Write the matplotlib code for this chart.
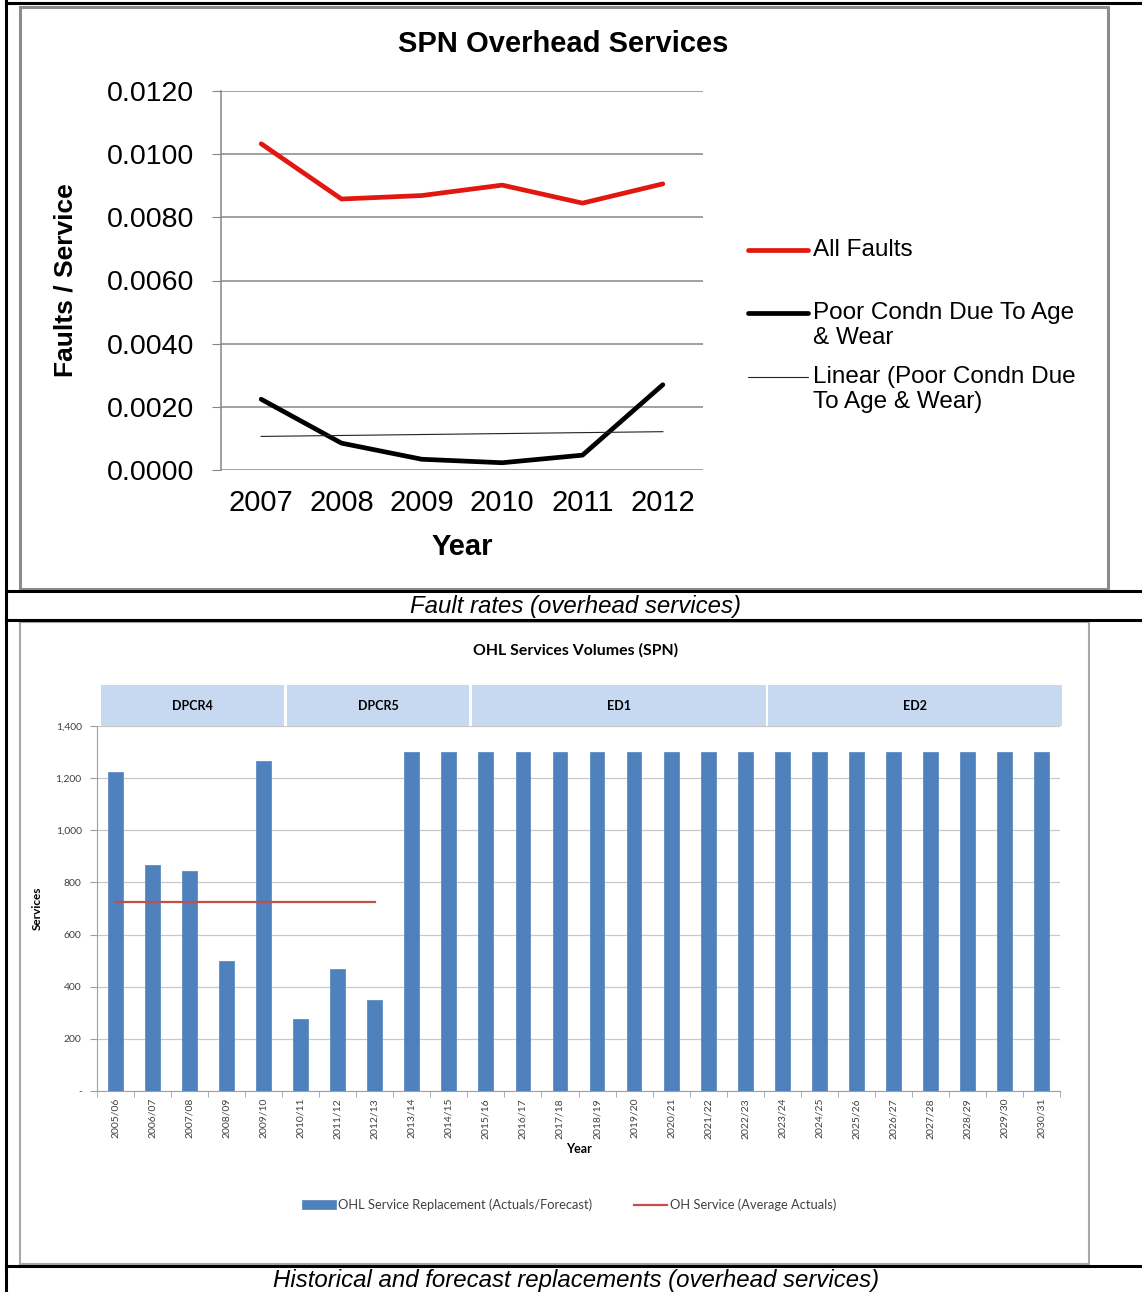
import numpy as np
import matplotlib
matplotlib.use("Agg")
from matplotlib import pyplot as plt
from matplotlib.lines import Line2D
from matplotlib.patches import Rectangle
import matplotlib.transforms as mtransforms

# Fault rates per service (top chart)
years = ["2007", "2008", "2009", "2010", "2011", "2012"]
all_faults = [0.01033, 0.00858, 0.00869, 0.00902, 0.00845, 0.00906]
poor_condn = [0.00224, 0.00085, 0.00034, 0.00023, 0.00047, 0.00270]
fault_yticks = [0.0, 0.002, 0.004, 0.006, 0.008, 0.010, 0.012]
fault_legend = [
    ["All Faults"],
    ["Poor Condn Due To Age", "& Wear"],
    ["Linear (Poor Condn Due", "To Age & Wear)"],
]

# Service replacement volumes (bottom chart)
periods = ["2005/06", "2006/07", "2007/08", "2008/09", "2009/10", "2010/11",
           "2011/12", "2012/13", "2013/14", "2014/15", "2015/16", "2016/17",
           "2017/18", "2018/19", "2019/20", "2020/21", "2021/22", "2022/23",
           "2023/24", "2024/25", "2025/26", "2026/27", "2027/28", "2028/29",
           "2029/30", "2030/31"]
volumes = [1225, 868, 845, 500, 1266, 275, 467, 349] + [1300] * 18
n_actuals = 8
price_controls = ["DPCR4", "DPCR5", "ED1", "ED2"]
control_years = [5, 5, 8, 8]
volume_yticks = [0, 200, 400, 600, 800, 1000, 1200, 1400]

W, H = 1142, 1292


def fx(px):
    return px / W


def fy(py):
    return 1 - py / H


fig = plt.figure(figsize=(W / 100, H / 100), dpi=100)
fig.patch.set_facecolor("white")

# ---- top chart ----
arial = "Liberation Sans"
ax1 = fig.add_axes([fx(221), fy(470), fx(703 - 221), (470 - 91) / H])
x = np.arange(len(years))
ax1.plot(x, all_faults, color="#e2170f", lw=3.4, solid_capstyle="round",
         solid_joinstyle="round")
ax1.plot(x, poor_condn, color="black", lw=3.4, solid_capstyle="round",
         solid_joinstyle="round")
coef = np.polyfit(x, poor_condn, 1)
ax1.plot(x, np.polyval(coef, x), color="#222222", lw=0.8)

ax1.set_xlim(-0.5, len(years) - 0.5)
ax1.set_ylim(0, 0.012)
ax1.set_yticks(fault_yticks)
ax1.set_yticklabels([f"{v:.4f}" for v in fault_yticks], fontsize=20.5, family=arial)
ax1.set_xticks(x)
ax1.set_xticklabels(years, fontsize=21, family=arial)
ax1.tick_params(axis="y", length=6.5, color="#868686", pad=13)
ax1.tick_params(axis="x", length=0, pad=14)
ax1.grid(axis="y", color="#868686", lw=1.1)
ax1.set_axisbelow(True)
for side in ["top", "right", "bottom"]:
    ax1.spines[side].set_visible(False)
ax1.spines["left"].set_color("#868686")
ax1.spines["left"].set_linewidth(1.1)
ax1.set_xlabel("Year", fontsize=21, fontweight="bold", family=arial, labelpad=11)
ax1.set_ylabel("Faults / Service", fontsize=19, fontweight="bold", family=arial)
ax1.yaxis.set_label_coords(-0.297, 0.5)
fig.text(fx(563), fy(44), "SPN Overhead Services", ha="center", va="center",
         fontsize=21, fontweight="bold", family=arial)

# legend drawn beside the plot area
legend_styles = [("#e2170f", 3.4), ("black", 3.4), ("#222222", 0.8)]
legend_rows = [250, 313, 377]
for (color, lw), row, lines in zip(legend_styles, legend_rows, fault_legend):
    fig.add_artist(Line2D([fx(748), fx(808)], [fy(row), fy(row)], color=color,
                          lw=lw, solid_capstyle="round"))
    for i, line in enumerate(lines):
        fig.text(fx(813), fy(row + 25 * i), line, ha="left", va="center",
                 fontsize=17.5, family=arial)

# ---- bottom chart ----
calib = "Lato"
ax2 = fig.add_axes([fx(97), fy(1091), fx(1060 - 97), (1091 - 726) / H])
xb = np.arange(len(periods))
bars = ax2.bar(xb, volumes, width=0.4, color="#4f81bd", edgecolor="#5f8cc4",
               lw=0.6, label="OHL Service Replacement (Actuals/Forecast)", zorder=3)
avg = np.mean(volumes[:n_actuals])
avg_line, = ax2.plot([0, n_actuals - 1], [avg, avg], color="#c0504d", lw=1.6,
                     label="OH Service (Average Actuals)", zorder=4)

ax2.set_xlim(-0.5, len(periods) - 0.5)
ax2.set_ylim(0, 1400)
ax2.set_yticks(volume_yticks)
ax2.set_yticklabels(["-" if v == 0 else f"{v:,}" for v in volume_yticks],
                    fontsize=7.5, family=calib, color="#404040")
ax2.set_xticks(xb)
ax2.set_xticklabels(periods, rotation=90, fontsize=7.5, family=calib,
                    color="#404040")
ax2.set_xticks(np.arange(len(periods) + 1) - 0.5, minor=True)
ax2.tick_params(axis="x", which="major", length=0, pad=5)
ax2.tick_params(axis="x", which="minor", length=4, color="#a0a0a0")
ax2.tick_params(axis="y", length=5, color="#a0a0a0", pad=6)
ax2.grid(axis="y", color="#c8c8c8", lw=0.9, zorder=0)
ax2.set_axisbelow(True)
for side in ["top", "right"]:
    ax2.spines[side].set_visible(False)
for side in ["left", "bottom"]:
    ax2.spines[side].set_color("#a0a0a0")
ax2.set_ylabel("Services", fontsize=8.5, fontweight="bold", family=calib)
ax2.yaxis.set_label_coords(-0.056, 0.5)
ax2.set_xlabel("Year", fontsize=9, fontweight="bold", family=calib, labelpad=3)
fig.text(fx(576), fy(650), "OHL Services Volumes (SPN)", ha="center",
         va="center", fontsize=11.4, fontweight="bold", family=calib)

# price control period headers above the bars
trans = mtransforms.blended_transform_factory(ax2.transData, ax2.transAxes)
start = -0.5
for name, count in zip(price_controls, control_years):
    left, right = start + 0.12, start + count + 0.05
    ax2.add_patch(Rectangle((left, 1.0), right - left, 0.113, transform=trans,
                            facecolor="#c6d9f1", edgecolor="none", clip_on=False))
    ax2.text((left + right) / 2, 1.056, name, transform=trans, ha="center",
             va="center", fontsize=9, fontweight="bold", family=calib)
    start += count

ax2.legend(handles=[bars, avg_line], ncol=2, loc="center",
           bbox_to_anchor=(fx(569), fy(1205)), bbox_transform=fig.transFigure,
           frameon=False, prop={"family": calib, "size": 9.3},
           handlelength=2.6, handletextpad=0.2, columnspacing=3.2,
           labelcolor="#404040")

# ---- frames, table rules and captions ----
fig.add_artist(Rectangle((fx(20), fy(589)), fx(1108 - 20), (589 - 7) / H,
                         transform=fig.transFigure, fill=False,
                         edgecolor="#8c8c8c", lw=2.2))
fig.add_artist(Rectangle((fx(20), fy(1264)), fx(1089 - 20), (1264 - 622) / H,
                         transform=fig.transFigure, fill=False,
                         edgecolor="#a8a8a8", lw=1.5))
fig.add_artist(Line2D([fx(6), fx(6)], [0, 1], color="black", lw=2.2))
for py in [3, 591, 620, 1266]:
    fig.add_artist(Line2D([fx(6), 1], [fy(py), fy(py)], color="black", lw=2.2))

fig.text(fx(576), fy(606), "Fault rates (overhead services)", ha="center",
         va="center", fontsize=17.3, style="italic", family=arial)
fig.text(fx(576), fy(1281), "Historical and forecast replacements (overhead services)",
         ha="center", va="center", fontsize=17.3, style="italic", family=arial)

fig.savefig("out.png", dpi=100)
